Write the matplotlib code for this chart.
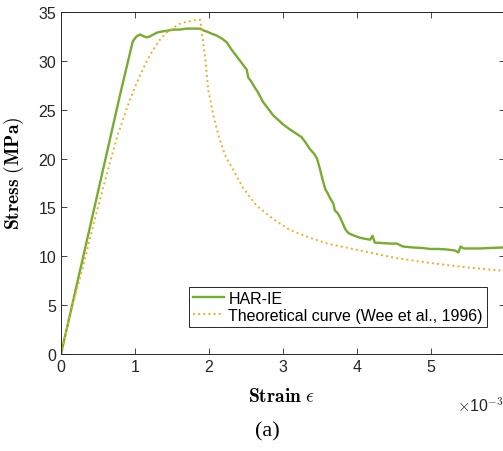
import matplotlib
matplotlib.use('Agg')
import matplotlib.pyplot as plt

# HAR-IE measured curve (strain in 1e-3, stress in MPa)
har_strain = [0, 0.5, 0.80, 0.97, 1.02, 1.07, 1.12, 1.16, 1.20, 1.25, 1.30, 1.36, 1.45, 1.52,
              1.60, 1.70, 1.80, 1.88, 1.93, 1.97, 2.03, 2.10, 2.17, 2.24, 2.30, 2.37, 2.42,
              2.47, 2.51, 2.53, 2.57, 2.60, 2.66, 2.73, 2.80, 2.87, 2.93, 3.00, 3.09, 3.17,
              3.25, 3.30, 3.36, 3.42, 3.46, 3.50, 3.53, 3.57, 3.60, 3.64, 3.68, 3.70, 3.74,
              3.77, 3.80, 3.84, 3.88, 3.93, 4.04, 4.10, 4.18, 4.21, 4.24, 4.35, 4.45, 4.54,
              4.62, 4.76, 4.88, 4.99, 5.10, 5.21, 5.32, 5.37, 5.40, 5.44, 5.55, 5.66, 5.80, 5.97]
har_stress = [0, 16.6, 26.6, 32.0, 32.5, 32.7, 32.5, 32.4, 32.5, 32.7, 32.9, 33.0, 33.1, 33.2,
              33.2, 33.3, 33.3, 33.3, 33.1, 33.0, 32.8, 32.6, 32.3, 31.9, 31.2, 30.5, 30.0,
              29.5, 29.1, 28.3, 27.9, 27.5, 26.8, 25.8, 25.1, 24.4, 24.0, 23.5, 23.0, 22.6,
              22.2, 21.7, 21.0, 20.5, 20.0, 18.9, 18.0, 16.9, 16.5, 15.9, 15.4, 14.7, 14.4,
              14.0, 13.5, 12.8, 12.4, 12.2, 11.9, 11.8, 11.7, 12.1, 11.4, 11.35, 11.3, 11.3,
              11.0, 10.9, 10.85, 10.75, 10.75, 10.7, 10.6, 10.4, 11.0, 10.8, 10.8, 10.8, 10.85, 10.9]

# Theoretical curve (Wee et al., 1996)
theo_strain = [0, 0.15, 0.30, 0.41, 0.53, 0.65, 0.77, 0.93, 1.05, 1.16, 1.25, 1.34, 1.43, 1.52,
               1.61, 1.70, 1.80, 1.88, 1.91, 1.95, 1.99, 2.06, 2.13, 2.22, 2.33, 2.46, 2.64,
               2.87, 3.09, 3.36, 3.6, 3.85, 4.1, 4.54, 5.0, 5.44, 6.0]
theo_stress = [0, 4.8, 9.0, 12.4, 15.9, 19.3, 22.5, 26.0, 28.2, 30.0, 31.2, 32.2, 32.9, 33.4,
               33.8, 34.0, 34.15, 34.2, 32.5, 30.2, 27.0, 24.4, 22.3, 20.3, 18.8, 17.0, 15.2,
               13.8, 12.7, 11.9, 11.3, 10.9, 10.5, 9.8, 9.3, 8.9, 8.5]

x_ticks = [0, 1, 2, 3, 4, 5]
y_ticks = [0, 5, 10, 15, 20, 25, 30, 35]

plt.rcParams['font.family'] = ['Liberation Sans', 'DejaVu Sans']
plt.rcParams['mathtext.fontset'] = 'cm'

W, H = 503, 452
fig = plt.figure(figsize=(W / 100, H / 100), dpi=100)
ax = fig.add_axes([61 / W, 97 / H, 444 / W, 342 / H])

ax.plot(har_strain, har_stress, color='#77AC30', lw=1.7, label='HAR-IE')
ax.plot(theo_strain, theo_stress, color='#EDB120', lw=1.4, ls=':',
        label='Theoretical curve (Wee et al., 1996)')

ax.set_xlim(0, 6)
ax.set_ylim(0, 35)
ax.set_xticks(x_ticks)
ax.set_yticks(y_ticks)
ax.tick_params(direction='in', top=True, right=True, labelsize=11.5, colors='#262626',
               length=4, width=0.6)
for s in ax.spines.values():
    s.set_color('#262626')
    s.set_linewidth(0.7)

# axis labels placed by hand to follow the original layout
fig.text(14 / W, 1 - 173 / H, r'$\mathbf{Stress\ (MPa)}$', fontsize=14, rotation=90,
         ha='center', va='center')
fig.text(282 / W, 1 - 397 / H, r'$\mathbf{Strain}\ \epsilon$', fontsize=14,
         ha='center', va='center')

fig.text(457 / W, 1 - 405 / H, r'$\times$10$^{-3}$', fontsize=11.5, color='#262626',
         va='center', ha='left')
fig.text(267 / W, 1 - 432 / H, '(a)', fontsize=16, family='Liberation Serif',
         ha='center', va='center')

leg = ax.legend(loc='lower right', bbox_to_anchor=(0.959, 0.079), fontsize=11.5,
                fancybox=False, framealpha=1, edgecolor='#262626', handlelength=1.9,
                handletextpad=0.3, borderpad=0.25, labelspacing=0.15, borderaxespad=0)
leg.get_frame().set_linewidth(0.7)

fig.savefig('out.png', dpi=100)
